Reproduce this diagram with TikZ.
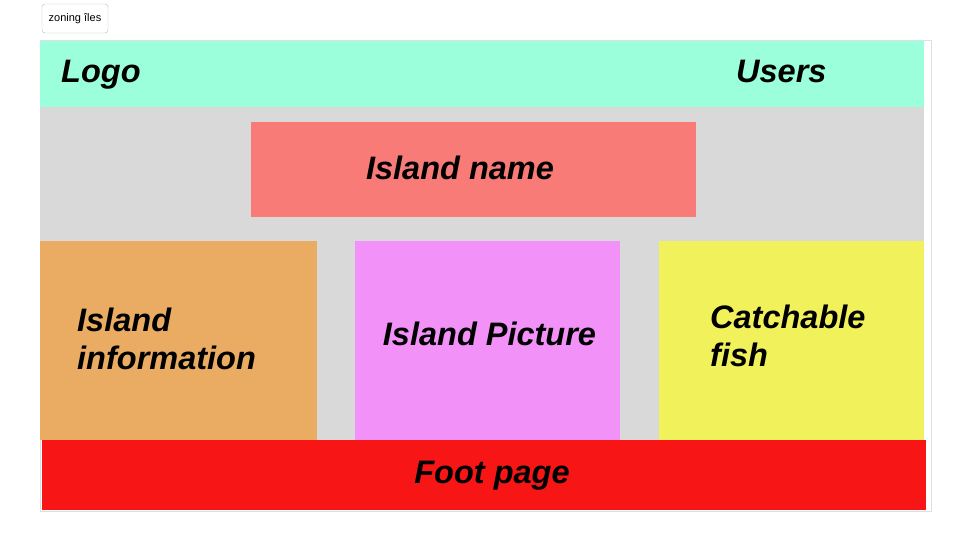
\documentclass[tikz,border=0pt]{standalone}
\usepackage{fontspec}
\setmainfont{Liberation Sans}
\newfontfamily\heavyfont{Liberation Sans}[BoldFeatures={FakeBold=1.6}]
\usepackage{tikz}

\definecolor{mint}{HTML}{9CFFDC}
\definecolor{zonegray}{HTML}{D9D9D9}
\definecolor{salmon}{HTML}{F87B78}
\definecolor{sand}{HTML}{EAAB63}
\definecolor{orchid}{HTML}{F292F8}
\definecolor{lemon}{HTML}{F1F25B}
\definecolor{footred}{HTML}{F71515}

\begin{document}
\begin{tikzpicture}[x=1pt,y=-1pt,
    zone/.style={inner sep=0pt,outer sep=0pt,minimum width=#1},
    lbl/.style={inner sep=0pt,font=\heavyfont\fontsize{32.5}{38}\selectfont\bfseries\itshape,align=left}]
    \useasboundingbox (0,0) rectangle (972,551);

    \node[draw=gray!55,rounded corners=3pt,minimum width=66pt,minimum height=29pt,
          inner sep=0pt,font=\fontsize{11}{13}\selectfont] (btn) at (75,18.5) {zoning îles};
    \draw[gray!25] (40,40) rectangle (931,511);

    \node[zone=884pt,fill=mint,minimum height=66pt] (head) at (482,74) {};
    \node[zone=884pt,fill=zonegray,minimum height=333pt] (body) at (482,273.5) {};
    \node[zone=445pt,fill=salmon,minimum height=95pt] (name) at (473.5,169.5) {};
    \node[zone=277pt,fill=sand,minimum height=199pt] (info) at (178.5,340.5) {};
    \node[zone=265pt,fill=orchid,minimum height=199pt] (pic) at (487.5,340.5) {};
    \node[zone=265pt,fill=lemon,minimum height=199pt] (fish) at (791.5,340.5) {};
    \node[zone=884pt,fill=footred,minimum height=70pt] (foot) at (484,475) {};

    \node[lbl,anchor=base west] (logo) at (61,82) {Logo};
    \node[lbl,anchor=base west] (users) at (736,82) {Users};
    \node[lbl] (namet) at (460,168) {Island name};
    \node[lbl,anchor=west] (infot) at (77,339) {Island\\information};
    \node[lbl] (pict) at (489.5,334) {Island Picture};
    \node[lbl,anchor=west] (fisht) at (710,336) {Catchable\\fish};
    \node[lbl] (foott) at (492,476) {Foot page};
\end{tikzpicture}
\end{document}
